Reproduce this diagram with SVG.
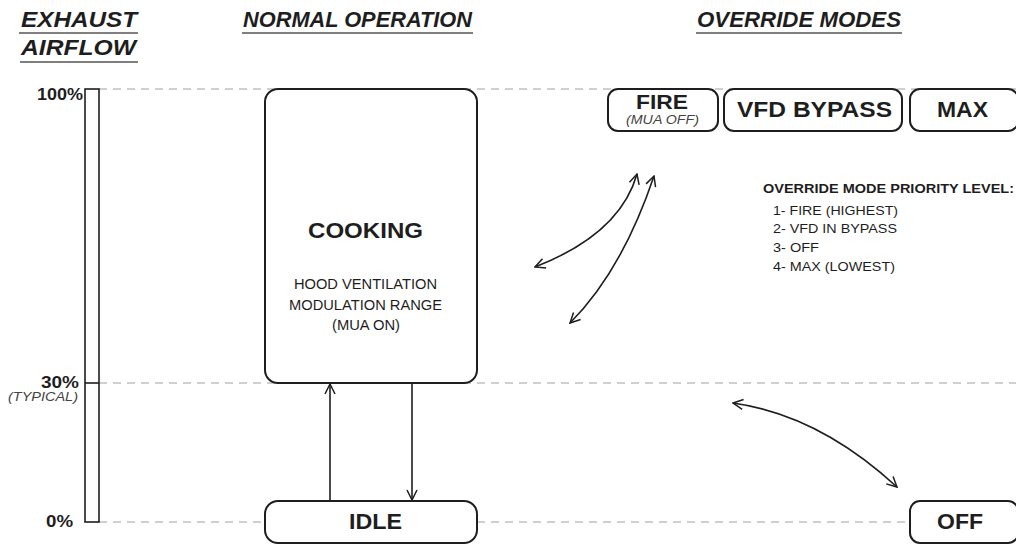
<svg xmlns="http://www.w3.org/2000/svg" width="1016" height="544" viewBox="0 0 1016 544">
<style>
text{font-family:"Liberation Sans",Arial,sans-serif;fill:#1e1e1e}
.h{font-size:22px;font-weight:bold;font-style:italic}
.b{font-weight:bold}
.g{fill:#444}
.dash{stroke:#a0a0a0;stroke-width:1;stroke-dasharray:8 6;fill:none}
.box{fill:#fff;stroke:#1e1e1e;stroke-width:2}
.conn{fill:none;stroke:#1e1e1e;stroke-width:1.6}
.ul{stroke:#555;stroke-width:1.5}
</style>
<defs>
<marker id="ah" viewBox="0 0 12 12" refX="11" refY="6" markerWidth="12" markerHeight="12" markerUnits="userSpaceOnUse" orient="auto-start-reverse">
<path d="M1,1 L11,6 L1,11" fill="none" stroke="#1e1e1e" stroke-width="1.5"/>
</marker>
</defs>
<rect width="1016" height="544" fill="#fff"/>
<g id="headers">
<text class="h" x="21" y="27" textLength="116" lengthAdjust="spacingAndGlyphs">EXHAUST</text>
<line class="ul" x1="19" y1="33" x2="138" y2="33"/>
<text class="h" x="21" y="55" textLength="115" lengthAdjust="spacingAndGlyphs">AIRFLOW</text>
<line class="ul" x1="20" y1="62" x2="138" y2="62"/>
<text class="h" x="243" y="27" textLength="229" lengthAdjust="spacingAndGlyphs">NORMAL OPERATION</text>
<line class="ul" x1="242" y1="33" x2="473" y2="33"/>
<text class="h" x="697" y="27" textLength="204" lengthAdjust="spacingAndGlyphs">OVERRIDE MODES</text>
<line class="ul" x1="696" y1="33" x2="902" y2="33"/>
</g>
<g id="guides">
<line class="dash" x1="99" y1="89" x2="1016" y2="89"/>
<line class="dash" x1="99" y1="383" x2="1016" y2="383"/>
<line class="dash" x1="99" y1="522" x2="912" y2="522"/>
</g>
<g id="scale">
<rect x="85" y="89" width="14" height="433" fill="#fff" stroke="#1e1e1e" stroke-width="1.6"/>
<line x1="85" y1="383" x2="99" y2="383" stroke="#1e1e1e" stroke-width="1.6"/>
<text class="b" x="37" y="100" font-size="16" textLength="46" lengthAdjust="spacingAndGlyphs">100%</text>
<text class="b" x="41" y="388" font-size="16" textLength="38" lengthAdjust="spacingAndGlyphs">30%</text>
<text class="g" x="8" y="401" font-size="12.5" font-style="italic" textLength="70" lengthAdjust="spacingAndGlyphs">(TYPICAL)</text>
<text class="b" x="46" y="527" font-size="16" textLength="27" lengthAdjust="spacingAndGlyphs">0%</text>
</g>
<g id="cooking">
<rect class="box" x="265" y="89" width="212" height="294" rx="13"/>
<text class="b" x="308" y="238" font-size="22" textLength="115" lengthAdjust="spacingAndGlyphs">COOKING</text>
<text x="294" y="289" font-size="14" textLength="143" lengthAdjust="spacingAndGlyphs">HOOD VENTILATION</text>
<text x="289" y="310" font-size="14" textLength="153" lengthAdjust="spacingAndGlyphs">MODULATION RANGE</text>
<text x="332" y="330" font-size="14" textLength="68" lengthAdjust="spacingAndGlyphs">(MUA ON)</text>
</g>
<g id="idle">
<rect class="box" x="265" y="501" width="212" height="42" rx="13"/>
<text class="b" x="349" y="529" font-size="22" textLength="53" lengthAdjust="spacingAndGlyphs">IDLE</text>
</g>
<g id="fire">
<rect class="box" x="608" y="89" width="110" height="42" rx="10"/>
<text class="b" x="636" y="109" font-size="19.5" textLength="52" lengthAdjust="spacingAndGlyphs">FIRE</text>
<text class="g" x="626" y="124" font-size="12.5" font-style="italic" textLength="73" lengthAdjust="spacingAndGlyphs">(MUA OFF)</text>
</g>
<g id="vfd">
<rect class="box" x="724" y="89" width="178" height="42" rx="10"/>
<text class="b" x="737" y="117" font-size="22" textLength="155" lengthAdjust="spacingAndGlyphs">VFD BYPASS</text>
</g>
<g id="max">
<rect class="box" x="910" y="89" width="108" height="42" rx="10"/>
<text class="b" x="937" y="117" font-size="22" textLength="51" lengthAdjust="spacingAndGlyphs">MAX</text>
</g>
<g id="off">
<rect class="box" x="910" y="501" width="108" height="42" rx="10"/>
<text class="b" x="937" y="529" font-size="22" textLength="46" lengthAdjust="spacingAndGlyphs">OFF</text>
</g>
<g id="priority">
<text class="b" x="763" y="193" font-size="12.5" textLength="251" lengthAdjust="spacingAndGlyphs">OVERRIDE MODE PRIORITY LEVEL:</text>
<text x="773" y="215" font-size="13" textLength="125" lengthAdjust="spacingAndGlyphs">1- FIRE (HIGHEST)</text>
<text x="773" y="233" font-size="13" textLength="124" lengthAdjust="spacingAndGlyphs">2- VFD IN BYPASS</text>
<text x="773" y="252" font-size="13" textLength="46" lengthAdjust="spacingAndGlyphs">3- OFF</text>
<text x="773" y="271" font-size="13" textLength="122" lengthAdjust="spacingAndGlyphs">4- MAX (LOWEST)</text>
</g>
<g id="connectors">
<line class="conn" x1="330" y1="501" x2="330" y2="384" marker-end="url(#ah)"/>
<line class="conn" x1="412" y1="383" x2="412" y2="500" marker-end="url(#ah)"/>
<path class="conn" d="M535,267 Q620,234 637,174" marker-start="url(#ah)" marker-end="url(#ah)"/>
<path class="conn" d="M570,323 Q622,271 654,176" marker-start="url(#ah)" marker-end="url(#ah)"/>
<path class="conn" d="M733,403 Q819,415 897,487" marker-start="url(#ah)" marker-end="url(#ah)"/>
</g>
</svg>
